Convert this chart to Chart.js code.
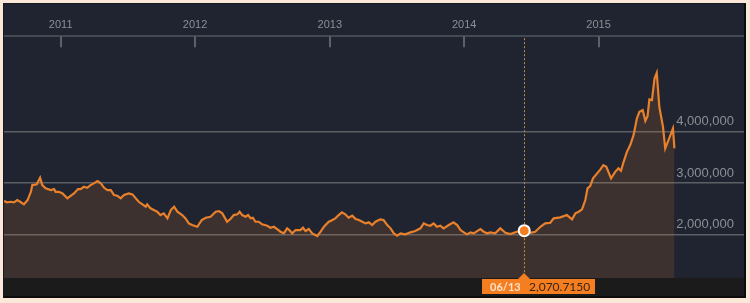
<!DOCTYPE html>
<html>
<head>
<meta charset="utf-8">
<script src="https://cdn.jsdelivr.net/npm/chart.js@4"></script>
<style>
  html, body { margin: 0; padding: 0; }
  body { width: 750px; height: 303px; background: #fce8d8; position: relative; overflow: hidden; }
  #panel {
    position: absolute; left: 3px; top: 3px; width: 740px; height: 292px;
    background: #1f2430;
    border-left: 1px solid #161a20; border-top: 1px solid #161a20;
    border-right: 2px solid #0c0c0c; border-bottom: 2px solid #0c0c0c;
  }
  canvas { display: block; }
</style>
</head>
<body>
<div id="panel"><canvas id="myChart" width="740" height="292"></canvas></div>
<script>
const dates = [
  "2010-07-31", "2010-08-09", "2010-08-18", "2010-08-27", "2010-09-05", "2010-09-14", "2010-09-23", "2010-10-03",
  "2010-10-12", "2010-10-16", "2010-10-28", "2010-11-06", "2010-11-12", "2010-11-21", "2010-12-05", "2010-12-14",
  "2010-12-18", "2010-12-27", "2011-01-06", "2011-01-19", "2011-01-28", "2011-02-06", "2011-02-17", "2011-02-24",
  "2011-03-05", "2011-03-14", "2011-03-23", "2011-04-01", "2011-04-11", "2011-04-20", "2011-04-29", "2011-05-08",
  "2011-05-17", "2011-05-26", "2011-06-04", "2011-06-13", "2011-06-22", "2011-07-05", "2011-07-15", "2011-07-24",
  "2011-08-01", "2011-08-11", "2011-08-20", "2011-08-24", "2011-09-02", "2011-09-11", "2011-09-20", "2011-09-29",
  "2011-10-08", "2011-10-18", "2011-10-27", "2011-11-05", "2011-11-14", "2011-11-27", "2011-12-06", "2011-12-15",
  "2011-12-24", "2012-01-07", "2012-01-19", "2012-01-30", "2012-02-12", "2012-02-26", "2012-03-06", "2012-03-15",
  "2012-03-28", "2012-04-06", "2012-04-15", "2012-04-25", "2012-05-01", "2012-05-08", "2012-05-17", "2012-05-24",
  "2012-05-31", "2012-06-06", "2012-06-13", "2012-06-22", "2012-07-01", "2012-07-15", "2012-07-24", "2012-08-02",
  "2012-08-11", "2012-08-20", "2012-08-29", "2012-09-07", "2012-09-13", "2012-09-21", "2012-09-30", "2012-10-13",
  "2012-10-20", "2012-10-27", "2012-11-05", "2012-11-14", "2012-11-28", "2012-12-07", "2012-12-16", "2012-12-29",
  "2013-01-03", "2013-01-16", "2013-01-25", "2013-02-03", "2013-02-12", "2013-02-21", "2013-03-03", "2013-03-12",
  "2013-03-21", "2013-03-30", "2013-04-08", "2013-04-17", "2013-04-26", "2013-05-05", "2013-05-18", "2013-05-27",
  "2013-06-06", "2013-06-15", "2013-06-24", "2013-07-03", "2013-07-12", "2013-07-25", "2013-08-08", "2013-08-21",
  "2013-09-04", "2013-09-13", "2013-09-22", "2013-10-01", "2013-10-10", "2013-10-19", "2013-10-28", "2013-11-06",
  "2013-11-20", "2013-12-03", "2013-12-13", "2013-12-22", "2013-12-31", "2014-01-09", "2014-01-18", "2014-01-27",
  "2014-02-05", "2014-02-14", "2014-02-23", "2014-03-04", "2014-03-13", "2014-03-26", "2014-04-09", "2014-04-23",
  "2014-05-06", "2014-05-24", "2014-06-13", "2014-06-30", "2014-07-13", "2014-07-27", "2014-08-09", "2014-08-23",
  "2014-09-01", "2014-09-19", "2014-10-07", "2014-10-21", "2014-10-30", "2014-11-08", "2014-11-17", "2014-11-26",
  "2014-12-02", "2014-12-09", "2014-12-17", "2014-12-28", "2015-01-06", "2015-01-14", "2015-01-22", "2015-02-04",
  "2015-02-15", "2015-02-24", "2015-03-03", "2015-03-10", "2015-03-19", "2015-03-28", "2015-04-06", "2015-04-15",
  "2015-04-22", "2015-05-01", "2015-05-08", "2015-05-14", "2015-05-19", "2015-05-26", "2015-06-02", "2015-06-08",
  "2015-06-15", "2015-06-25", "2015-07-01", "2015-07-10", "2015-07-22", "2015-07-26"
];

const values = [
  2649000, 2624000, 2635000, 2624000, 2669000, 2630000, 2585000, 2669000,
  2830000, 2961000, 2975000, 3103000, 2961000, 2897000, 2864000, 2883000,
  2830000, 2830000, 2799000, 2702000, 2752000, 2799000, 2883000, 2883000,
  2928000, 2908000, 2961000, 2994000, 3039000, 2994000, 2908000, 2864000,
  2864000, 2766000, 2752000, 2702000, 2766000, 2799000, 2780000, 2702000,
  2635000, 2585000, 2538000, 2585000, 2507000, 2474000, 2441000, 2376000,
  2409000, 2312000, 2474000, 2538000, 2441000, 2376000, 2312000, 2214000,
  2181000, 2148000, 2279000, 2324000, 2343000, 2441000, 2454000, 2409000,
  2246000, 2298000, 2376000, 2390000, 2441000, 2376000, 2343000, 2376000,
  2312000, 2324000, 2246000, 2246000, 2195000, 2168000, 2129000, 2148000,
  2103000, 2051000, 2019000, 2117000, 2084000, 2019000, 2084000, 2084000,
  2129000, 2064000, 2103000, 2019000, 1967000, 2051000, 2148000, 2246000,
  2259000, 2312000, 2376000, 2429000, 2390000, 2324000, 2363000, 2298000,
  2279000, 2246000, 2214000, 2234000, 2181000, 2246000, 2292000, 2279000,
  2181000, 2117000, 2019000, 1973000, 2019000, 2000000, 2039000, 2064000,
  2117000, 2214000, 2181000, 2168000, 2214000, 2148000, 2168000, 2117000,
  2181000, 2234000, 2181000, 2084000, 2039000, 2000000, 2039000, 2019000,
  2064000, 2103000, 2051000, 2019000, 2039000, 2019000, 2117000, 2031000,
  2006000, 2051000, 2070715, 2031000, 2051000, 2148000, 2214000, 2226000,
  2312000, 2331000, 2376000, 2292000, 2409000, 2441000, 2487000, 2669000,
  2897000, 2942000, 3092000, 3189000, 3267000, 3351000, 3318000, 3092000,
  3220000, 3287000, 3240000, 3415000, 3610000, 3741000, 3936000, 4261000,
  4390000, 4423000, 4214000, 4306000, 4632000, 4618000, 5041000, 5150000,
  4487000, 4097000, 3676000, 3838000, 4066000, 3676000
];

const yearTicks = ["2011-01-01", "2012-01-01", "2013-01-01", "2014-01-01", "2015-01-01"];
const valueTicks = [2000000, 3000000, 4000000];
const highlightDate = "2014-06-13";

const hiIndex = dates.indexOf(highlightDate);
const lineColor = "#e8802c";

// dark strip under the plot
const bottomBand = {
  id: "bottomBand",
  beforeDraw(chart) {
    const { ctx, chartArea, width, height } = chart;
    ctx.save();
    ctx.fillStyle = "#1b1b1b";
    ctx.fillRect(0, chartArea.bottom, width, height - chartArea.bottom);
    ctx.restore();
  }
};

// short year ticks hanging below the top axis
const yearMarks = {
  id: "yearMarks",
  afterDraw(chart) {
    const { ctx, chartArea } = chart;
    const xs = chart.scales.x;
    ctx.save();
    ctx.strokeStyle = "#5d6269";
    ctx.lineWidth = 2;
    xs.ticks.forEach(t => {
      const px = Math.round(xs.getPixelForValue(t.value));
      ctx.beginPath();
      ctx.moveTo(px, chartArea.top);
      ctx.lineTo(px, chartArea.top + 11);
      ctx.stroke();
    });
    ctx.restore();
  }
};

// dotted crosshair at the selected day
const crosshair = {
  id: "crosshair",
  beforeDatasetsDraw(chart) {
    const { ctx, chartArea } = chart;
    const pt = chart.getDatasetMeta(0).data[hiIndex];
    ctx.save();
    ctx.strokeStyle = "#c98a3a";
    ctx.lineWidth = 1;
    ctx.setLineDash([2, 2]);
    ctx.beginPath();
    ctx.moveTo(Math.round(pt.x) + 0.5, chartArea.top + 2);
    ctx.lineTo(Math.round(pt.x) + 0.5, chartArea.bottom - 5);
    ctx.stroke();
    ctx.restore();
  }
};

// orange label box under the crosshair
const dateLabel = {
  id: "dateLabel",
  afterDraw(chart) {
    const { ctx, chartArea } = chart;
    const pt = chart.getDatasetMeta(0).data[hiIndex];
    const px = Math.round(pt.x);
    const top = chartArea.bottom + 1;
    const left = px - 42;
    ctx.save();
    ctx.fillStyle = "#f47e20";
    ctx.fillRect(left, top, 113, 15);
    ctx.beginPath();
    ctx.moveTo(px - 6, top);
    ctx.lineTo(px, top - 6);
    ctx.lineTo(px + 6, top);
    ctx.closePath();
    ctx.fill();
    const d = highlightDate.split("-");
    ctx.textBaseline = "middle";
    ctx.font = "bold 11px Lato, 'Open Sans', sans-serif";
    ctx.fillStyle = "#fde3cc";
    ctx.fillText(d[1] + "/" + d[2], left + 8, top + 8);
    ctx.font = "12px Lato, 'Open Sans', sans-serif";
    ctx.fillStyle = "#3a2412";
    const v = (values[hiIndex] / 1000).toLocaleString("en-US", { minimumFractionDigits: 4, maximumFractionDigits: 4 });
    ctx.fillText(v, left + 47, top + 8);
    ctx.restore();
  }
};

const points = dates.map((d, i) => ({ x: Date.parse(d), y: values[i] }));

new Chart(document.getElementById("myChart"), {
  type: "line",
  data: {
    datasets: [{
      data: points,
      borderColor: lineColor,
      borderWidth: 2.2,
      backgroundColor: "rgba(232, 128, 44, 0.15)",
      fill: "start",
      tension: 0,
      pointRadius: c => c.dataIndex === hiIndex ? 5.5 : 0,
      pointBackgroundColor: "#f47e20",
      pointBorderColor: "#ffffff",
      pointBorderWidth: 2
    }]
  },
  options: {
    responsive: false,
    animation: false,
    events: [],
    layout: { padding: { top: 9, bottom: 18, left: 0, right: 0 } },
    plugins: { legend: { display: false }, tooltip: { enabled: false } },
    scales: {
      x: {
        type: "linear",
        position: "top",
        min: Date.parse("2010-07-31"),
        max: Date.parse("2016-01-31"),
        afterBuildTicks: s => { s.ticks = yearTicks.map(d => ({ value: Date.parse(d) })); },
        afterFit: s => { s.paddingLeft = 0; s.paddingRight = 0; },
        grid: { display: false, drawTicks: false },
        border: { display: true, color: "#434951", width: 2 },
        ticks: {
          color: "#8b9096",
          padding: 5,
          maxRotation: 0,
          autoSkip: false,
          font: { family: "'Liberation Sans', Arial, sans-serif", size: 11 },
          callback: v => new Date(v).getUTCFullYear()
        }
      },
      y: {
        position: "right",
        min: 1148000,
        max: 5866000,
        afterBuildTicks: s => { s.ticks = valueTicks.map(v => ({ value: v })); },
        afterFit: s => { s.paddingTop = 0; s.paddingBottom = 0; },
        grid: { color: "#5b5f65", lineWidth: 1.5, drawTicks: false },
        border: { display: false },
        ticks: {
          mirror: true,
          padding: -10,
          labelOffset: -10,
          color: "#8b9096",
          font: { family: "'Liberation Sans', Arial, sans-serif", size: 13 },
          callback: v => Number(v).toLocaleString("en-US")
        }
      }
    }
  },
  plugins: [bottomBand, crosshair, yearMarks, dateLabel]
});
</script>
</body>
</html>
